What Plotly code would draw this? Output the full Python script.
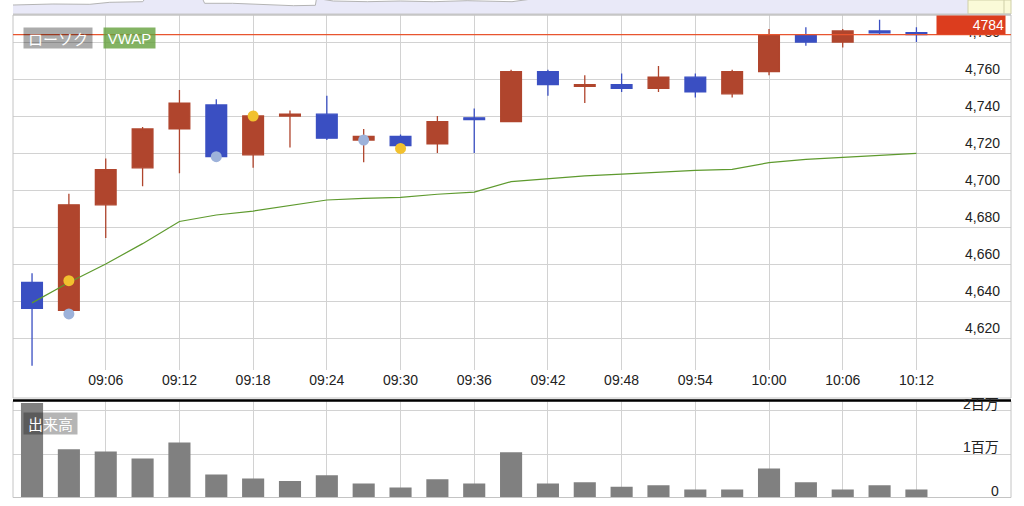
import pandas as pd
import plotly.graph_objects as go

# ---------------- data ----------------
times = ["09:00", "09:03", "09:06", "09:09", "09:12", "09:15", "09:18", "09:21", "09:24",
         "09:27", "09:30", "09:33", "09:36", "09:39", "09:42", "09:45", "09:48", "09:51",
         "09:54", "09:57", "10:00", "10:03", "10:06", "10:09", "10:12"]
opens = [4650, 4635, 4692, 4712, 4733, 4746, 4719, 4740, 4741, 4727, 4729, 4725, 4739,
         4737, 4764, 4756, 4757, 4755, 4761, 4752, 4764, 4784, 4780, 4786, 4785]
highs = [4655, 4698, 4717, 4734, 4754, 4749, 4741, 4743, 4751, 4733, 4730, 4740, 4744,
         4765, 4765, 4762, 4763, 4767, 4763, 4765, 4787, 4788, 4787, 4792, 4788]
lows = [4605, 4634, 4674, 4702, 4709, 4717, 4712, 4723, 4727, 4715, 4723, 4720, 4720,
        4737, 4751, 4747, 4753, 4753, 4750, 4750, 4762, 4778, 4777, 4784, 4780]
closes = [4636, 4692, 4711, 4733, 4747, 4718, 4740, 4741, 4728, 4729, 4724, 4737, 4738,
          4764, 4757, 4757, 4755, 4761, 4753, 4764, 4784, 4780, 4786, 4785, 4784]
vwap = [4639, 4650, 4660, 4671, 4683, 4686.5, 4688.6, 4691.4, 4694.6, 4695.5, 4696,
        4697.7, 4698.9, 4704.5, 4706, 4707.6, 4708.6, 4709.7, 4710.6, 4711.2, 4714.8,
        4716.6, 4717.7, 4718.5, 4719.8]
volume = [2180000, 1110000, 1060000, 900000, 1270000, 530000, 440000, 380000, 510000,
          320000, 230000, 420000, 320000, 1040000, 320000, 350000, 250000, 280000,
          185000, 185000, 670000, 350000, 185000, 280000, 185000]

yellow_times = ["09:03", "09:18", "09:30"]
yellow_vals = [4651, 4740, 4722.5]
blue_times = ["09:03", "09:15", "09:27"]
blue_vals = [4633, 4718, 4727]

tick_labels = ["09:06", "09:12", "09:18", "09:24", "09:30", "09:36", "09:42", "09:48",
               "09:54", "10:00", "10:06", "10:12"]
price_ticks = [4620, 4640, 4660, 4680, 4700, 4720, 4740, 4760, 4780]
vol_ticks = [0, 1000000, 2000000]
vol_tick_text = ["0", "1百万", "2百万"]

# navigator (long-range overview, only its lower strip is visible)
nav_pos = [0, 2.0, 4.0, 7.7, 9.7, 13.0, 13.2, 19.0, 19.2, 22.0, 25.1, 28.1, 30.3, 30.4,
           30.8, 32.1, 35.5, 38.8, 42.1, 45.5, 50.0, 52.0]
nav_vals = [4550, 4553, 4560, 4557, 4577, 4583, 4610, 4610, 4567, 4567, 4553, 4543, 4547,
            4610, 4610, 4590, 4583, 4590, 4583, 4593, 4583, 4610]

# ---------------- helpers ----------------
W, H = 1024, 506
def px(x):
    return x / W
def py(y):
    return 1 - y / H

DAY = "2024-05-20 "
def to_dt(lst):
    return pd.to_datetime([DAY + t for t in lst])

xt = to_dt(times)
x_range = [xt[0] - pd.Timedelta(minutes=1.55), xt[0] + pd.Timedelta(minutes=79.7)]

FONT = "Liberation Sans, Arial, Noto Sans CJK JP, sans-serif"
JFONT = "Noto Sans CJK JP, Liberation Sans, sans-serif"
GRID = "#d2d2d2"
UP = "#B0452D"
DOWN = "#3A4FC2"

fig = go.Figure()

# candles
fig.add_trace(go.Candlestick(
    x=xt, open=opens, high=highs, low=lows, close=closes,
    increasing=dict(line=dict(color=UP, width=1.3), fillcolor=UP),
    decreasing=dict(line=dict(color=DOWN, width=1.3), fillcolor=DOWN),
    xaxis="x", yaxis="y", showlegend=False, hoverinfo="skip"))

# VWAP
fig.add_trace(go.Scatter(x=xt, y=vwap, mode="lines", line=dict(color="#5E9A2E", width=1.2),
                         xaxis="x", yaxis="y", showlegend=False, hoverinfo="skip"))

# signal markers
fig.add_trace(go.Scatter(x=to_dt(yellow_times), y=yellow_vals, mode="markers",
                         marker=dict(color="#F2C12E", size=11),
                         xaxis="x", yaxis="y", showlegend=False, hoverinfo="skip"))
fig.add_trace(go.Scatter(x=to_dt(blue_times), y=blue_vals, mode="markers",
                         marker=dict(color="#9DB2DA", size=11),
                         xaxis="x", yaxis="y", showlegend=False, hoverinfo="skip"))

# volume
fig.add_trace(go.Bar(x=xt, y=volume, width=1.8 * 60 * 1000,
                     marker=dict(color="#808080", line=dict(width=0)),
                     xaxis="x2", yaxis="y2", showlegend=False, hoverinfo="skip"))

# navigator
nav_top = 4600
fig.add_trace(go.Scatter(x=nav_pos, y=[nav_top] * len(nav_pos), mode="lines",
                         line=dict(width=0, color="rgba(0,0,0,0)"),
                         xaxis="x3", yaxis="y3", showlegend=False, hoverinfo="skip"))
fig.add_trace(go.Scatter(x=nav_pos, y=nav_vals, mode="lines", fill="tonexty",
                         fillcolor="white", line=dict(width=1, color="#b4b4b4"),
                         xaxis="x3", yaxis="y3", showlegend=False, hoverinfo="skip"))

xdom = [px(13), px(1011)]
last = closes[-1]
VOL_MAX = 2224000

fig.update_layout(
    width=W, height=H, margin=dict(l=0, r=0, t=0, b=0),
    paper_bgcolor="white", plot_bgcolor="rgba(0,0,0,0)",
    font=dict(family=FONT, size=14, color="#222"),
    boxgap=0.25, boxgroupgap=0.25,
    hovermode=False,
    xaxis=dict(domain=xdom, anchor="y", type="date", range=x_range,
               tickvals=to_dt(tick_labels), ticktext=tick_labels,
               showgrid=True, gridcolor=GRID, gridwidth=1.3, zeroline=False,
               showline=False, ticks="", tickfont=dict(size=14, color="#222"),
               rangeslider=dict(visible=False)),
    yaxis=dict(domain=[py(370), py(15)], anchor="x", range=[4602.7, 4794.6],
               side="right", tickvals=price_ticks, tickformat=",",
               ticklabelposition="inside top", ticklabelstandoff=8,
               showgrid=True, gridcolor=GRID, gridwidth=1.3, zeroline=False,
               showline=False, ticks="", tickfont=dict(size=14, color="#222")),
    xaxis2=dict(domain=xdom, anchor="y2", type="date", matches="x",
                tickvals=to_dt(tick_labels), showticklabels=False,
                showgrid=True, gridcolor=GRID, gridwidth=1.3, zeroline=False,
                showline=False, ticks=""),
    yaxis2=dict(domain=[py(497.5), py(401)], anchor="x2", range=[0, VOL_MAX],
                side="right", tickvals=vol_ticks, showticklabels=False,
                showgrid=True, gridcolor=GRID, gridwidth=1.3, zeroline=False,
                showline=False, ticks=""),
    xaxis3=dict(domain=xdom, anchor="y3", range=[0, 100], visible=False),
    yaxis3=dict(domain=[py(14), 1], anchor="x3", range=[4460, nav_top], visible=False),
)

shapes = [
    # navigator band
    dict(type="rect", xref="paper", yref="paper", x0=px(13), x1=px(1011), y0=py(14), y1=1,
         fillcolor="#E9E9F8", line=dict(width=0), layer="below"),
    dict(type="rect", xref="paper", yref="paper", x0=px(968), x1=px(1011), y0=py(14), y1=1,
         fillcolor="#FAFAD8", line=dict(width=1, color="#cfcfa8"), layer="above"),
    dict(type="line", xref="paper", yref="paper", x0=px(1004), x1=px(1004), y0=py(14), y1=1,
         line=dict(width=1, color="#cfcfa8")),
    dict(type="line", xref="paper", yref="paper", x0=px(13), x1=px(1011), y0=py(14.5), y1=py(14.5),
         line=dict(width=2, color="#c8c8c8")),
    # main frame
    dict(type="rect", xref="paper", yref="paper", x0=px(13), x1=px(1011), y0=py(398), y1=py(15),
         line=dict(width=1, color="#c4c4c4")),
    # volume frame
    dict(type="rect", xref="paper", yref="paper", x0=px(13), x1=px(1011), y0=py(497.5), y1=py(401),
         line=dict(width=1, color="#c4c4c4")),
    # last price line
    dict(type="line", xref="paper", yref="y", x0=px(13), x1=px(1011), y0=last, y1=last,
         line=dict(width=1.2, color="#E8552F")),
]
fig.update_layout(shapes=shapes)

annotations = [
    dict(text=str(last), xref="paper", yref="y", x=px(1006), y=last, xanchor="right",
         yanchor="bottom", showarrow=False, bgcolor="#DC3D1E", width=66, align="right",
         borderpad=1, font=dict(color="white", size=14, family=FONT)),
    dict(text="ローソク", xref="paper", yref="paper", x=px(23), y=py(27), xanchor="left",
         yanchor="top", showarrow=False, bgcolor="rgba(0,0,0,0.33)", width=68, height=20,
         borderpad=0, font=dict(color="white", size=15, family=JFONT)),
    dict(text="VWAP", xref="paper", yref="paper", x=px(103), y=py(27), xanchor="left",
         yanchor="top", showarrow=False, bgcolor="rgba(100,160,60,0.8)", width=51, height=20,
         borderpad=0, font=dict(color="white", size=15, family=FONT)),
    dict(text="出来高", xref="paper", yref="paper", x=px(23), y=py(412), xanchor="left",
         yanchor="top", showarrow=False, bgcolor="rgba(0,0,0,0.29)", width=53, height=21,
         borderpad=0, font=dict(color="white", size=15, family=JFONT)),
]
# volume axis labels (drawn as text above their gridlines)
for v, t in zip(vol_ticks, vol_tick_text):
    annotations.append(dict(text=t, xref="paper", yref="y2", x=px(1001), y=v,
                            xanchor="right", yanchor="bottom", yshift=-3, showarrow=False,
                            font=dict(color="#222", size=14, family=FONT)))
fig.update_layout(annotations=annotations)

# separator between panels (drawn on top of the volume labels)
fig.add_shape(type="line", xref="paper", yref="paper", x0=px(13), x1=px(1011),
              y0=py(400.5), y1=py(400.5), line=dict(width=2.5, color="black"))

fig.write_html("out.html", config={"displayModeBar": False},
               post_script="document.body.style.margin='0px';document.body.style.overflow='hidden';")
